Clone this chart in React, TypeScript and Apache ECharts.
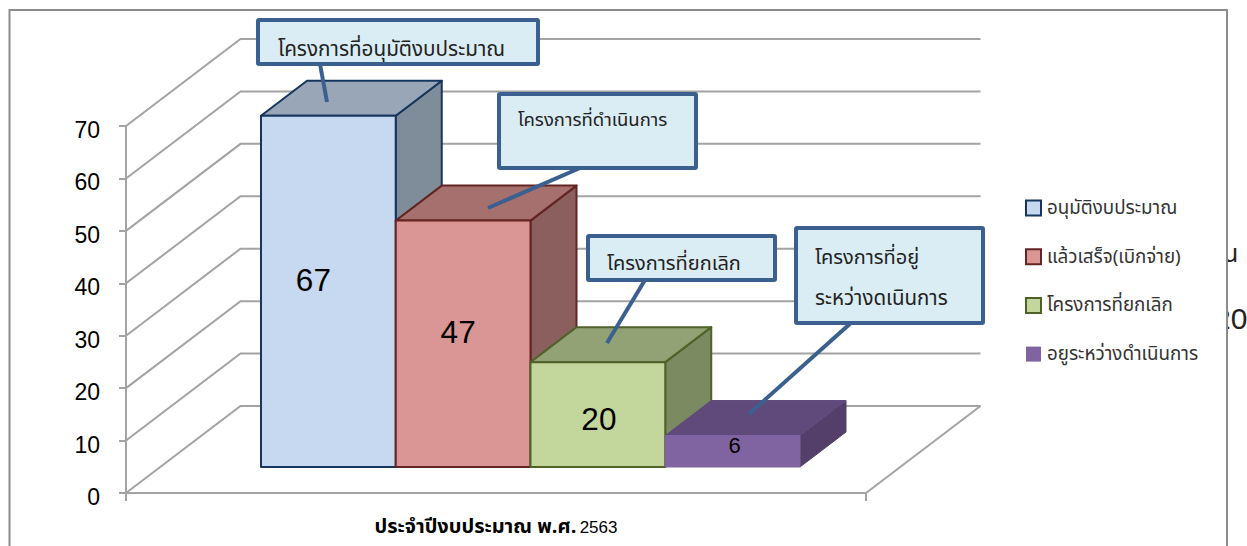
import React, { useEffect, useRef } from "react";
import * as echarts from "echarts";

const categories = ["ประจำปีงบประมาณ พ.ศ. 2563"];
const seriesNames = ["อนุมัติงบประมาณ", "แล้วเสร็จ(เบิกจ่าย)", "โครงการที่ยกเลิก", "อยูระหว่างดำเนินการ"];
const approved = [67];
const finished = [47];
const cancelled = [20];
const inProgress = [6];
const yTicks = [0, 10, 20, 30, 40, 50, 60, 70];

const THAI = '"Noto Sans Thai", "Noto Sans", "Liberation Sans", sans-serif';
const LATIN = '"Liberation Sans", Arial, sans-serif';

const FLOOR_DX = 114.5, FLOOR_DY = -87;
const PLANE_DX = 34.5, PLANE_DY = -26;
const BAR_W = 134.75, DEPTH_DX = 46, DEPTH_DY = -35;

const palette = [
  { front: "#c6d9f1", top: "#98a6b8", side: "#7f8d9a", edge: "#17365d", label: 31.5, nudge: [-15, -11] },
  { front: "#d99694", top: "#a5706e", side: "#8b5f5d", edge: "#632523", label: 31.5, nudge: [-5, -12] },
  { front: "#c3d69b", top: "#93a274", side: "#7c8a61", edge: "#4f6228", label: 31.5, nudge: [1, 4] },
  { front: "#8064a2", top: "#604a7b", side: "#533f6a", edge: "", label: 22, nudge: [2, -6] },
];

function barRender(index: number) {
  return (_params: any, api: any) => {
    const value = api.value(1);
    const base = api.coord([0, 0]);
    const top = api.coord([0, value]);
    const c = palette[index];
    const x0 = base[0] + PLANE_DX + (index - 2) * BAR_W;
    const x1 = x0 + BAR_W;
    const y0 = base[1] + PLANE_DY;
    const y1 = top[1] + PLANE_DY;
    const face = (fill: string) => ({ fill, stroke: c.edge || fill, lineWidth: c.edge ? 2 : 1, lineJoin: "round" });
    return {
      type: "group",
      children: [
        {
          type: "polygon",
          shape: { points: [[x1, y1], [x1 + DEPTH_DX, y1 + DEPTH_DY], [x1 + DEPTH_DX, y0 + DEPTH_DY], [x1, y0]] },
          style: face(c.side),
        },
        {
          type: "polygon",
          shape: { points: [[x0, y1], [x0 + DEPTH_DX, y1 + DEPTH_DY], [x1 + DEPTH_DX, y1 + DEPTH_DY], [x1, y1]] },
          style: face(c.top),
        },
        {
          type: "rect",
          shape: { x: x0, y: y1, width: BAR_W, height: y0 - y1 },
          style: face(c.front),
        },
        {
          type: "text",
          x: (x0 + x1) / 2 + c.nudge[0],
          y: (y0 + y1) / 2 + c.nudge[1],
          style: {
            text: String(value),
            fontFamily: LATIN,
            fontSize: c.label,
            fill: "#000",
            align: "center",
            verticalAlign: "middle",
          },
        },
      ],
    };
  };
}

function gridRender(_params: any, api: any) {
  const value = api.value(0);
  const [, y] = api.coord([0, value]);
  const gridLeft = api.coord([0, 0])[0] - 370;
  const gridRight = api.coord([0, 0])[0] + 370;
  const style = { stroke: "#a3a3a3", lineWidth: 2, fill: "none" };
  const children: any[] = [
    {
      type: "polyline",
      shape: {
        points: [
          [gridLeft, y],
          [gridLeft + FLOOR_DX, y + FLOOR_DY],
          [gridRight + FLOOR_DX, y + FLOOR_DY],
        ],
      },
      style,
    },
  ];
  if (value === 0) {
    children.push({
      type: "line",
      shape: { x1: gridRight, y1: y, x2: gridRight + FLOOR_DX, y2: y + FLOOR_DY },
      style,
    });
  }
  return { type: "group", children };
}

function callout(x: number, y: number, w: number, h: number, tail: number[], lines: any[]) {
  const border = "#3b6090";
  return [
    {
      type: "line",
      z: 50,
      shape: { x1: tail[0], y1: tail[1], x2: tail[2], y2: tail[3] },
      style: { stroke: border, lineWidth: 4 },
    },
    {
      type: "rect",
      z: 51,
      shape: { x, y, width: w, height: h, r: 1 },
      style: { fill: "#daedf4", stroke: border, lineWidth: 4 },
    },
    ...lines.map((l) => ({
      type: "text",
      z: 52,
      x: l.x,
      y: l.y,
      style: { text: l.text, fontFamily: THAI, fontSize: l.size, fill: "#222", verticalAlign: "middle" },
    })),
  ];
}

export default function App() {
  const ref = useRef<HTMLDivElement>(null);
  useEffect(() => {
    document.body.style.margin = "0";
    const chart = echarts.init(ref.current!, null, { renderer: "svg" });
    const values = [approved, finished, cancelled, inProgress];
    chart.setOption({
      animation: false,
      backgroundColor: "#fff",
      grid: { left: 126, top: 126, width: 740, height: 367, containLabel: false },
      xAxis: {
        type: "category",
        data: categories,
        axisLine: { lineStyle: { color: "#a3a3a3", width: 2 } },
        axisTick: { show: true, length: 8, lineStyle: { color: "#a3a3a3", width: 2 } },
        axisLabel: {
          margin: 24,
          formatter: () => "{b|ประจำปีงบประมาณ พ.ศ.} {r|2563}",
          rich: {
            b: { fontFamily: THAI, fontSize: 20, fontWeight: "bold", color: "#000" },
            r: { fontFamily: LATIN, fontSize: 17, color: "#000" },
          },
        },
      },
      yAxis: {
        type: "value",
        min: 0,
        max: 70,
        interval: 10,
        splitLine: { show: false },
        axisLine: { show: true, lineStyle: { color: "#a3a3a3", width: 2 } },
        axisTick: { show: true, length: 7, lineStyle: { color: "#a3a3a3", width: 2 } },
        axisLabel: { margin: 26, fontFamily: LATIN, fontSize: 23, color: "#000", verticalAlign: "top", lineHeight: 8 },
      },
      legend: {
        orient: "vertical",
        left: 1020,
        top: 193,
        itemWidth: 15,
        itemHeight: 15,
        itemGap: 28.7,
        textStyle: { fontFamily: THAI, fontSize: 18.8, lineHeight: 20, color: "#333", padding: [0, 0, 0, 1] },
        data: seriesNames.map((name, i) => ({
          name,
          icon: "rect",
          itemStyle: {
            color: palette[i].front,
            borderColor: palette[i].edge || palette[i].front,
            borderWidth: palette[i].edge ? 2 : 0,
          },
        })),
      },
      series: [
        {
          type: "custom",
          name: "grid",
          z: 1,
          silent: true,
          coordinateSystem: "cartesian2d",
          data: yTicks.map((t) => [t]),
          encode: { y: 0 },
          renderItem: gridRender,
        },
        ...seriesNames.map((name, i) => ({
          type: "custom",
          name,
          z: 3,
          coordinateSystem: "cartesian2d",
          data: values[i].map((v, k) => [k, v]),
          encode: { x: 0, y: 1 },
          itemStyle: { color: palette[i].front },
          renderItem: barRender(i),
        })),
      ],
      graphic: [
        { type: "text", z: -20, x: 1223, y: 254, style: { text: "น", fontFamily: THAI, fontSize: 25, fill: "#222", verticalAlign: "middle" } },
        { type: "text", z: -20, x: 1214, y: 318, style: { text: "20", fontFamily: LATIN, fontSize: 30, fill: "#222", verticalAlign: "middle" } },
        { type: "rect", z: -10, shape: { x: 9.5, y: 10, width: 1217.5, height: 560 }, style: { fill: "#fff", stroke: "#8c8c8c", lineWidth: 2 } },
        ...callout(258, 20, 280, 44, [320, 64, 327, 102], [{ x: 278, y: 49, text: "โครงการที่อนุมัติงบประมาณ", size: 20.7 }]),
        ...callout(499, 94, 197, 74, [580, 168, 488, 208], [{ x: 518, y: 120, text: "โครงการที่ดำเนินการ", size: 18.5 }]),
        ...callout(588, 236, 187, 44, [645, 280, 607, 343], [{ x: 607, y: 264, text: "โครงการที่ยกเลิก", size: 20 }]),
        ...callout(796, 228, 187, 95, [852, 322, 749, 414], [
          { x: 815, y: 258, text: "โครงการที่อยู่", size: 20 },
          { x: 815, y: 298, text: "ระหว่างดเนินการ", size: 20.5 },
        ]),
      ],
    });
    return () => chart.dispose();
  }, []);
  return <div ref={ref} style={{ position: "fixed", left: 0, top: 0, width: 1247, height: 546 }} />;
}
